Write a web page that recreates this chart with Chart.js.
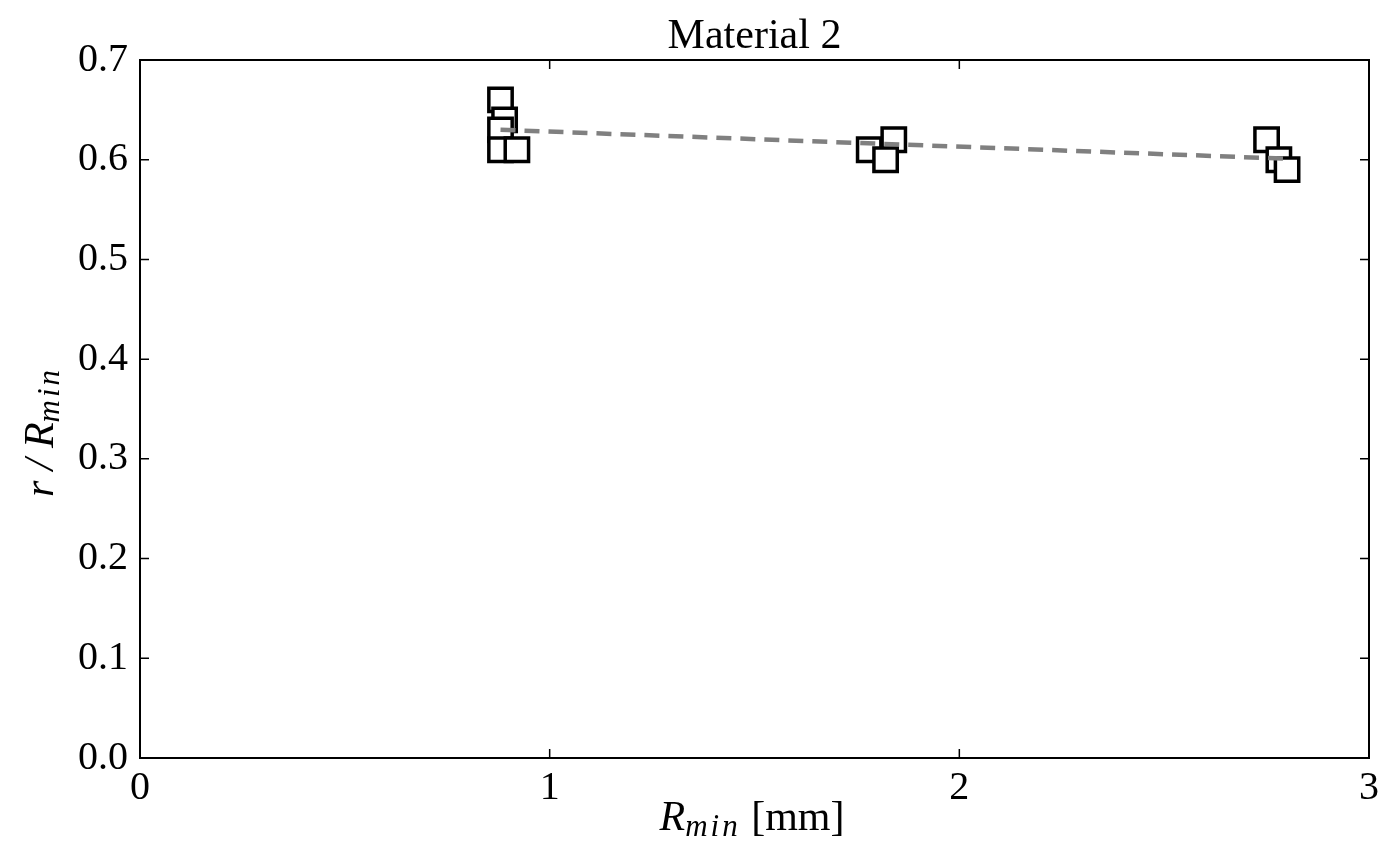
<!DOCTYPE html>
<html>
<head>
<meta charset="utf-8">
<script src="https://cdn.jsdelivr.net/npm/chart.js@4.4.0/dist/chart.umd.min.js"></script>
<style>
  html, body { margin: 0; padding: 0; background: #fff; }
  #wrap { width: 1397px; height: 850px; }
</style>
</head>
<body>
<div id="wrap"><canvas id="chart" width="1397" height="850"></canvas></div>
<script>
'use strict';

// Data
var rMin = [0.88, 0.89, 0.88, 0.88, 0.92, 1.78, 1.84, 1.82, 2.75, 2.78, 2.80];
var ratio = [0.66, 0.64, 0.63, 0.61, 0.61, 0.61, 0.62, 0.60, 0.62, 0.60, 0.59];
var fitX = [0.88, 2.80];
var fitY = [0.630, 0.601];
var xTicks = [0, 1, 2, 3];
var yTicks = [0.0, 0.1, 0.2, 0.3, 0.4, 0.5, 0.6, 0.7];
var chartTitle = 'Material 2';

var serif = '"Liberation Serif", "DejaVu Serif", serif';

var points = rMin.map(function (x, i) { return { x: x, y: ratio[i] }; });
var fitPoints = fitX.map(function (x, i) { return { x: x, y: fitY[i] }; });

// title, inward ticks on all four sides, axis labels with subscripts
var decorations = {
  id: 'decorations',
  afterDraw: function (chart) {
    var ctx = chart.ctx;
    var a = chart.chartArea;
    var xs = chart.scales.x;
    var ys = chart.scales.y;
    ctx.save();
    ctx.strokeStyle = '#000';
    ctx.lineWidth = 1.5;
    ctx.beginPath();
    xTicks.forEach(function (t) {
      var px = xs.getPixelForValue(t);
      ctx.moveTo(px, a.bottom); ctx.lineTo(px, a.bottom - 9);
      ctx.moveTo(px, a.top); ctx.lineTo(px, a.top + 9);
    });
    yTicks.forEach(function (t) {
      var py = ys.getPixelForValue(t);
      ctx.moveTo(a.left, py); ctx.lineTo(a.left + 9, py);
      ctx.moveTo(a.right, py); ctx.lineTo(a.right - 9, py);
    });
    ctx.stroke();
    ctx.lineWidth = 2;
    ctx.strokeRect(a.left, a.top, a.right - a.left, a.bottom - a.top);

    ctx.fillStyle = '#000';
    ctx.textBaseline = 'alphabetic';

    // title
    ctx.font = '42px ' + serif;
    ctx.textAlign = 'center';
    ctx.fillText(chartTitle, (a.left + a.right) / 2, 48);

    // x axis label: R_min [mm]
    var big = 'italic 42px ' + serif;
    var sub = 'italic 31px ' + serif;
    var rest = '42px ' + serif;
    ctx.textAlign = 'left';
    ctx.font = big; var w1 = ctx.measureText('R').width;
    ctx.font = sub; ctx.letterSpacing = '3px'; var w2 = ctx.measureText('min').width;
    ctx.letterSpacing = '0px';
    ctx.font = rest; var w3 = ctx.measureText(' [mm]').width;
    var x0 = 752 - (w1 + w2 + w3) / 2;
    var yb = 830;
    ctx.font = big; ctx.fillText('R', x0, yb);
    ctx.font = sub; ctx.letterSpacing = '3px'; ctx.fillText('min', x0 + w1, yb + 6);
    ctx.letterSpacing = '0px';
    ctx.font = rest; ctx.fillText(' [mm]', x0 + w1 + w2, yb);

    // y axis label: r/R_min
    ctx.translate(53, 432);
    ctx.rotate(-Math.PI / 2);
    ctx.font = big; var v1 = ctx.measureText('r / R').width;
    ctx.font = sub; ctx.letterSpacing = '3px'; var v2 = ctx.measureText('min').width;
    ctx.letterSpacing = '0px';
    var y0 = -(v1 + v2) / 2;
    ctx.font = big; ctx.fillText('r / R', y0, 0);
    ctx.font = sub; ctx.letterSpacing = '3px'; ctx.fillText('min', y0 + v1, 6);
    ctx.restore();
  }
};

new Chart(document.getElementById('chart'), {
  type: 'scatter',
  data: {
    datasets: [{
      label: 'fit',
      data: fitPoints,
      showLine: true,
      borderColor: '#808080',
      borderWidth: 4.5,
      borderDash: [15, 9],
      pointRadius: 0,
      fill: false
    }, {
      label: 'data',
      data: points,
      pointStyle: 'rect',
      pointRadius: 16.5,
      pointHoverRadius: 16.5,
      pointBackgroundColor: '#fff',
      pointBorderColor: '#000',
      pointBorderWidth: 3.5
    }]
  },
  options: {
    responsive: false,
    animation: false,
    events: [],
    layout: { padding: { top: 60, right: 28, left: 0, bottom: 0 } },
    plugins: {
      legend: { display: false },
      tooltip: { enabled: false },
      title: { display: false }
    },
    scales: {
      x: {
        type: 'linear',
        min: 0,
        max: 3,
        afterBuildTicks: function (s) { s.ticks = xTicks.map(function (v) { return { value: v }; }); },
        afterFit: function (s) { s.height = 92; },
        grid: { display: false, drawTicks: false },
        border: { display: false },
        ticks: {
          padding: 6,
          color: '#000',
          maxRotation: 0,
          font: { family: serif, size: 40 },
          callback: function (v) { return String(v); }
        }
      },
      y: {
        type: 'linear',
        min: 0,
        max: 0.7,
        afterBuildTicks: function (s) { s.ticks = yTicks.map(function (v) { return { value: v }; }); },
        afterFit: function (s) { s.width = 140; },
        grid: { display: false, drawTicks: false },
        border: { display: false },
        ticks: {
          padding: 12,
          color: '#000',
          font: { family: serif, size: 40 },
          callback: function (v) { return Number(v).toFixed(1); }
        }
      }
    }
  },
  plugins: [decorations]
});
</script>
</body>
</html>
